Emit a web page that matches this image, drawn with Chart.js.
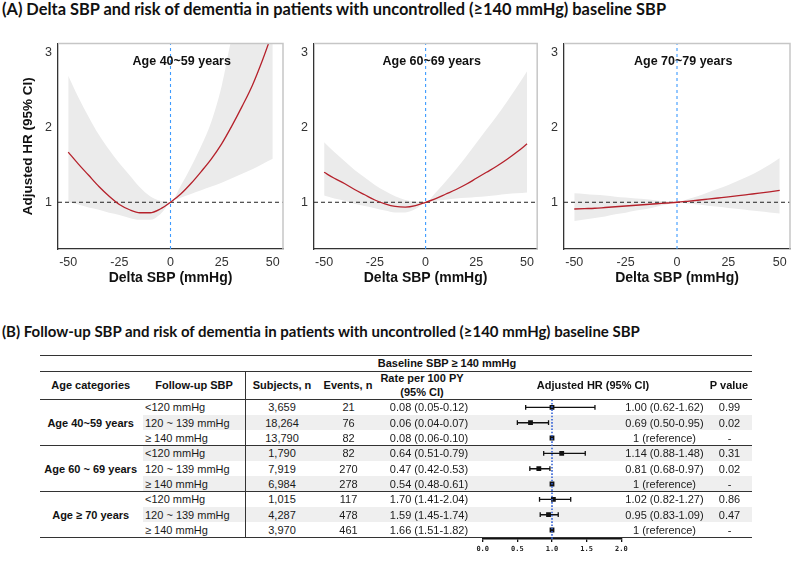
<!DOCTYPE html>
<html>
<head>
<meta charset="utf-8">
<script src="https://cdn.jsdelivr.net/npm/chart.js@4.4.1/dist/chart.umd.min.js"></script>
<style>
html, body { margin: 0; padding: 0; background: #fff; }
#fig { position: relative; width: 794px; height: 576px; overflow: hidden; font-family: "Liberation Sans", Arial, sans-serif; color: #1a1a1a; }
.abs { position: absolute; white-space: nowrap; z-index: 3; }
.ttl { font-family: Lato, "Open Sans", sans-serif; font-weight: 700; font-size: 16.4px; color: #111; }
.ttlB { font-size: 15px; }
.cell { font-size: 11px; }
.hd { font-size: 11px; font-weight: bold; color: #111; }
canvas { position: absolute; z-index: 2; }
.shade { position: absolute; background: #efefef; z-index: 0; }
.rule { position: absolute; background: #333; z-index: 1; }
</style>
</head>
<body>
<div id="fig">
  <canvas id="p1" width="290" height="270" style="left:0px;top:30px"></canvas>
  <canvas id="p2" width="250" height="270" style="left:290px;top:30px"></canvas>
  <canvas id="p3" width="254" height="270" style="left:540px;top:30px"></canvas>
  <canvas id="forest" width="170" height="175" style="left:470px;top:390px"></canvas>
</div>
<script>
// (A) spline curves: delta SBP grid and adjusted HR with 95% CI
const deltaSBP = [-50, -45, -40, -35, -30, -25, -20, -15, -10, -5, 0, 5, 10, 15, 20, 25, 30, 35, 40, 45, 50];

const hr4059 = [1.67, 1.51, 1.36, 1.21, 1.08, 0.97, 0.90, 0.86, 0.86, 0.91, 1.00, 1.11, 1.25, 1.41, 1.58, 1.78, 2.02, 2.28, 2.56, 2.90, 3.28];
const lo4059 = [1.00, 0.97, 0.93, 0.90, 0.86, 0.83, 0.79, 0.765, 0.765, 0.84, 1.00, 1.06, 1.11, 1.16, 1.21, 1.26, 1.32, 1.38, 1.44, 1.51, 1.58];
const hi4059 = [2.69, 2.40, 2.14, 1.90, 1.70, 1.52, 1.36, 1.20, 1.08, 1.02, 1.00, 1.22, 1.47, 1.75, 2.08, 2.55, 3.20, 3.60, 4.00, 4.40, 4.80];

const hr6069 = [1.40, 1.32, 1.25, 1.17, 1.10, 1.03, 0.98, 0.945, 0.935, 0.955, 1.00, 1.05, 1.11, 1.17, 1.24, 1.32, 1.40, 1.48, 1.57, 1.67, 1.78];
const lo6069 = [1.09, 1.05, 1.02, 0.98, 0.95, 0.92, 0.89, 0.865, 0.865, 0.91, 1.00, 1.02, 1.035, 1.05, 1.06, 1.07, 1.08, 1.095, 1.11, 1.12, 1.13];
const hi6069 = [1.80, 1.67, 1.55, 1.43, 1.33, 1.23, 1.15, 1.08, 1.03, 1.01, 1.00, 1.13, 1.28, 1.44, 1.61, 1.79, 1.97, 2.15, 2.34, 2.54, 2.75];

const hr7079 = [0.91, 0.915, 0.92, 0.93, 0.94, 0.95, 0.96, 0.97, 0.98, 0.99, 1.00, 1.013, 1.027, 1.042, 1.057, 1.072, 1.088, 1.105, 1.122, 1.14, 1.16];
const lo7079 = [0.75, 0.77, 0.79, 0.81, 0.84, 0.86, 0.89, 0.91, 0.94, 0.97, 1.00, 0.985, 0.97, 0.955, 0.94, 0.925, 0.91, 0.895, 0.88, 0.865, 0.85];
const hi7079 = [1.12, 1.11, 1.10, 1.09, 1.075, 1.065, 1.05, 1.04, 1.025, 1.012, 1.00, 1.04, 1.08, 1.13, 1.18, 1.23, 1.29, 1.35, 1.42, 1.50, 1.59];

const panelNames = ['Age 40~59 years', 'Age 60~69 years', 'Age 70~79 years'];
const xTicks = [-50, -25, 0, 25, 50];
const yTicks = [1, 2, 3];
const refHR = 1;
const refDelta = 0;

// (B) table
const ageCategories = ['Age 40~59 years', 'Age 60 ~ 69 years', 'Age \u2265 70 years'];
const followUpSBP = ['<120 mmHg', '120 ~ 139 mmHg', '\u2265 140 mmHg'];
const subjects = [3659, 18264, 13790, 1790, 7919, 6984, 1015, 4287, 3970];
const events = [21, 76, 82, 82, 270, 278, 117, 478, 461];
const ratePY = [0.08, 0.06, 0.08, 0.64, 0.47, 0.54, 1.70, 1.59, 1.66];
const rateLow = [0.05, 0.04, 0.06, 0.51, 0.42, 0.48, 1.41, 1.45, 1.51];
const rateHigh = [0.12, 0.07, 0.10, 0.79, 0.53, 0.61, 2.04, 1.74, 1.82];
const adjHR = [1.00, 0.69, 1, 1.14, 0.81, 1, 1.02, 0.95, 1];
const hrLow = [0.62, 0.50, null, 0.88, 0.68, null, 0.82, 0.83, null];
const hrHigh = [1.62, 0.95, null, 1.48, 0.97, null, 1.27, 1.09, null];
const pValues = ['0.99', '0.02', '-', '0.31', '0.02', '-', '0.86', '0.47', '-'];
const forestTicks = [0, 0.5, 1, 1.5, 2];

const fig = document.getElementById('fig');
const AX = '"Liberation Sans", Arial, sans-serif';

// ---------- top panels ----------
const panelDeco = {
  id: 'panelDeco',
  afterDatasetsDraw(chart, args, o) {
    const { ctx, chartArea: a, scales: { x } } = chart;
    ctx.save();
    ctx.strokeStyle = '#c6c6c6';
    ctx.lineWidth = 1.5;
    ctx.beginPath();
    ctx.moveTo(a.left, a.top);
    ctx.lineTo(a.right, a.top);
    ctx.lineTo(a.right, a.bottom);
    ctx.stroke();
    ctx.font = 'bold 12.5px ' + AX;
    ctx.fillStyle = '#111';
    ctx.textAlign = 'center';
    ctx.textBaseline = 'middle';
    ctx.fillText(o.label, x.getPixelForValue(o.labelX), a.top + 18);
    ctx.restore();
  }
};

function makePanel(id, name, labelX, hr, lo, hi, yWidth, padRight, showYTitle) {
  const xMin = -55, xMax = 55, yMin = 0.376, yMax = 3.12;
  const pts = arr => deltaSBP.map((d, i) => ({ x: d, y: arr[i] }));
  new Chart(document.getElementById(id), {
    type: 'line',
    data: {
      datasets: [
        { data: pts(hr), borderColor: '#b5212b', borderWidth: 1.3, pointRadius: 0, cubicInterpolationMode: 'monotone', fill: false },
        { data: [{ x: xMin, y: refHR }, { x: xMax, y: refHR }], borderColor: '#222', borderWidth: 1, borderDash: [4, 3], pointRadius: 0, fill: false },
        { data: [{ x: refDelta, y: yMin }, { x: refDelta, y: yMax }], borderColor: '#3d9bff', borderWidth: 1.1, borderDash: [3, 3], pointRadius: 0, fill: false },
        { data: pts(hi), borderColor: 'rgba(0,0,0,0)', borderWidth: 1, pointRadius: 0, cubicInterpolationMode: 'monotone', fill: '+1', backgroundColor: '#ebebeb' },
        { data: pts(lo), borderColor: 'rgba(0,0,0,0)', borderWidth: 1, pointRadius: 0, cubicInterpolationMode: 'monotone', fill: false }
      ]
    },
    options: {
      responsive: false,
      animation: false,
      layout: { padding: { top: 5, right: padRight, left: 0, bottom: 0 } },
      plugins: { legend: { display: false }, tooltip: { enabled: false }, panelDeco: { label: name, labelX: labelX } },
      scales: {
        x: {
          type: 'linear', min: xMin, max: xMax,
          grid: { display: false, drawTicks: false },
          border: { display: true, color: '#333', width: 1.3 },
          afterBuildTicks: s => { s.ticks = xTicks.map(v => ({ value: v })); },
          afterFit: s => { s.height = 51; },
          ticks: { padding: 6, color: '#333', font: { family: AX, size: 12.5 } },
          title: { display: true, text: 'Delta SBP (mmHg)', color: '#111', font: { family: AX, size: 14, weight: 'bold' }, padding: { top: 0, bottom: 13 } }
        },
        y: {
          type: 'linear', min: yMin, max: yMax,
          grid: { display: false, drawTicks: false },
          border: { display: true, color: '#333', width: 1.3 },
          afterBuildTicks: s => { s.ticks = yTicks.map(v => ({ value: v })); },
          afterFit: s => { s.width = yWidth; },
          ticks: { padding: 6, color: '#333', font: { family: AX, size: 12.5 } },
          title: { display: showYTitle, text: 'Adjusted HR (95% CI)', color: '#111', font: { family: AX, size: 13.5, weight: 'bold' }, padding: { top: 20, bottom: 0 } }
        }
      }
    },
    plugins: [panelDeco]
  });
}

makePanel('p1', panelNames[0], 5.5, hr4059, lo4059, hi4059, 58, 7, true);
makePanel('p2', panelNames[1], 3, hr6069, lo6069, hi6069, 24, 0, false);
makePanel('p3', panelNames[2], 3, hr7079, lo7079, hi7079, 24, 4, false);

// ---------- titles ----------
function put(text, x, y, align, cls, extra) {
  const d = document.createElement('div');
  d.className = 'abs ' + (cls || '');
  d.textContent = text;
  d.style.left = x + 'px';
  d.style.top = (y - 7) + 'px';
  d.style.lineHeight = '14px';
  if (align === 'center') d.style.transform = 'translateX(-50%)';
  if (extra) Object.assign(d.style, extra);
  fig.appendChild(d);
  return d;
}
function rect(cls, x, y, w, h) {
  const d = document.createElement('div');
  d.className = cls;
  d.style.left = x + 'px';
  d.style.top = y + 'px';
  d.style.width = w + 'px';
  d.style.height = h + 'px';
  fig.appendChild(d);
}

put('(A) Delta SBP and risk of dementia in patients with uncontrolled (\u2265140 mmHg) baseline SBP', 2, 9, 'left', 'ttl');
put('(B) Follow-up SBP and risk of dementia in patients with uncontrolled (\u2265140 mmHg) baseline SBP', 2, 331, 'left', 'ttl ttlB');

// ---------- table ----------
const tLeft = 40, tRight = 752;
const bodyTop = 399.7, rowH = 15.33;
const nRows = adjHR.length;
const rowY = i => bodyTop + rowH * (i + 0.5);
const fmt = n => String(n).replace(/\B(?=(\d{3})+(?!\d))/g, ',');

for (let i = 0; i < nRows; i++) {
  if (i % 2 === 1) rect('shade', 143, bodyTop + rowH * i, tRight - 143, rowH);
}
rect('rule', tLeft, 354.5, tRight - tLeft, 1.3);
rect('rule', tLeft, 370.5, tRight - tLeft, 1);
rect('rule', tLeft, 398.7, tRight - tLeft, 1);
rect('rule', tLeft, bodyTop + rowH * 3 - 0.5, tRight - tLeft, 1);
rect('rule', tLeft, bodyTop + rowH * 6 - 0.5, tRight - tLeft, 1);
rect('rule', tLeft, bodyTop + rowH * 9 - 0.5, tRight - tLeft, 1.3);
rect('rule', 245.3, 370.5, 1, bodyTop + rowH * 9 - 370.5);

put('Baseline SBP \u2265 140 mmHg', 447, 363, 'center', 'hd');
put('Age categories', 90.7, 385, 'center', 'hd');
put('Follow-up SBP', 194, 385, 'center', 'hd');
put('Subjects, n', 282, 385, 'center', 'hd');
put('Events, n', 348, 385, 'center', 'hd');
put('Rate per 100 PY', 422, 378, 'center', 'hd');
put('(95% CI)', 422, 392, 'center', 'hd');
put('Adjusted HR (95% CI)', 593, 385, 'center', 'hd');
put('P value', 729, 385, 'center', 'hd');

ageCategories.forEach((a, g) => put(a, 90.7, rowY(g * 3 + 1), 'center', 'hd'));
for (let i = 0; i < nRows; i++) {
  const y = rowY(i);
  put(followUpSBP[i % 3], 145, y, 'left', 'cell');
  put(fmt(subjects[i]), 282, y, 'center', 'cell');
  put(String(events[i]), 348.5, y, 'center', 'cell');
  put(ratePY[i].toFixed(2) + ' (' + rateLow[i].toFixed(2) + '-' + rateHigh[i].toFixed(2) + ')', 429, y, 'center', 'cell');
  const hrTxt = hrLow[i] === null ? '1 (reference)'
    : adjHR[i].toFixed(2) + ' (' + hrLow[i].toFixed(2) + '-' + hrHigh[i].toFixed(2) + ')';
  put(hrTxt, 664.5, y, 'center', 'cell');
  put(pValues[i], 729.5, y, 'center', 'cell');
}

// ---------- forest plot ----------
const axisY = 539;
const fyMin = -0.5;
const fyMax = fyMin + (axisY - bodyTop) / rowH;
const ciLine = [];
const caps = [];
adjHR.forEach((v, i) => {
  if (hrLow[i] === null) return;
  ciLine.push({ x: hrLow[i], y: i }, { x: hrHigh[i], y: i }, { x: null, y: null });
  caps.push({ x: hrLow[i], y: i }, { x: hrHigh[i], y: i });
});

new Chart(document.getElementById('forest'), {
  type: 'scatter',
  data: {
    datasets: [
      { data: [{ x: refHR, y: fyMin }, { x: refHR, y: fyMax }], showLine: true, borderColor: '#3563d6', borderWidth: 1.6, borderDash: [1.6, 1.6], pointRadius: 0 },
      { data: adjHR.map((v, i) => ({ x: v, y: i })), pointStyle: 'rect', pointRadius: 3.4, backgroundColor: '#111', borderColor: '#111', borderWidth: 0 },
      { data: caps, pointStyle: 'line', rotation: 90, pointRadius: 2.4, borderColor: '#111', borderWidth: 1.3 },
      { data: ciLine, showLine: true, spanGaps: false, borderColor: '#111', borderWidth: 1.4, pointRadius: 0 }
    ]
  },
  options: {
    responsive: false,
    animation: false,
    layout: { padding: { top: bodyTop - 390, left: 12.7, right: 18.7, bottom: 0 } },
    plugins: { legend: { display: false }, tooltip: { enabled: false } },
    scales: {
      x: {
        type: 'linear', min: 0, max: 2,
        grid: { drawOnChartArea: false, drawTicks: true, tickLength: 3, color: '#111', lineWidth: 1.3 },
        border: { display: true, color: '#111', width: 1.5 },
        afterBuildTicks: s => { s.ticks = forestTicks.map(v => ({ value: v })); },
        afterFit: s => { s.height = 175 - (axisY - 390); },
        ticks: { padding: 3, color: '#222', callback: v => v.toFixed(1), font: { family: '"DejaVu Sans Mono", monospace', size: 7, weight: 'bold' } }
      },
      y: { type: 'linear', reverse: true, min: fyMin, max: fyMax, display: false }
    }
  }
});
</script>
</body>
</html>
